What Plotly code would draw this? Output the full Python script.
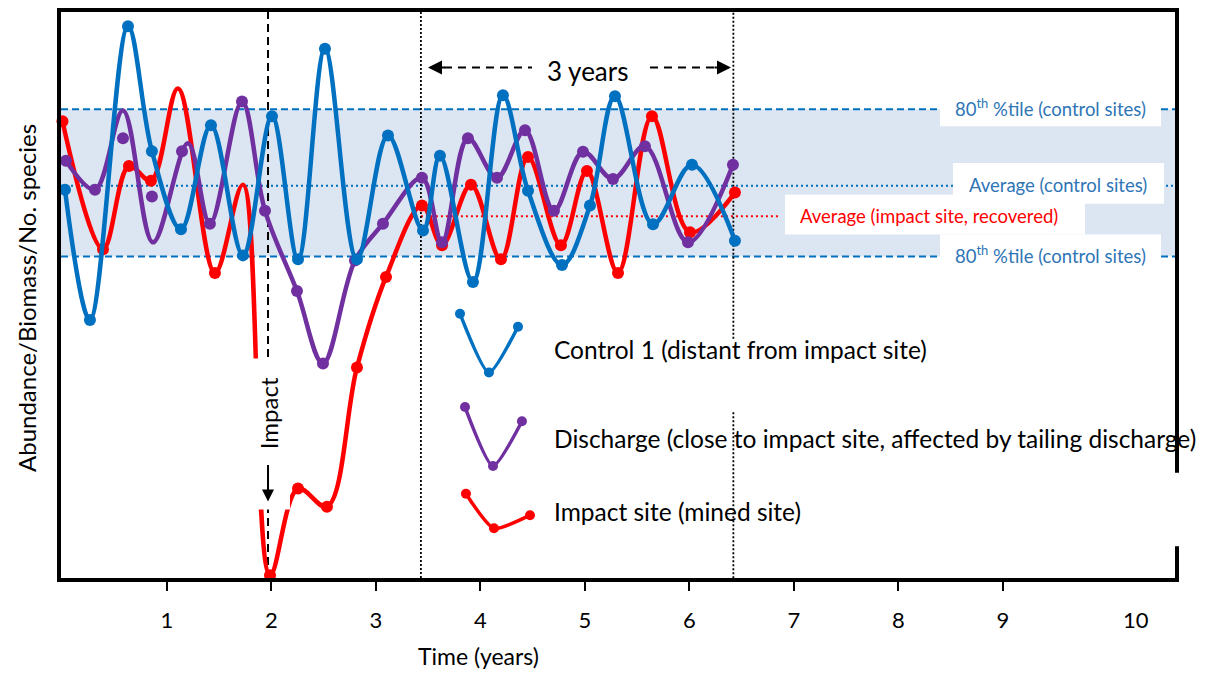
import plotly.graph_objects as go

# ---------------- data ----------------
# x in years, y in arbitrary units (0 = bottom of the plot, 100 = top)
blue_x = [0.024, 0.263, 0.627, 0.856, 1.134, 1.421, 1.727, 2.005, 2.254, 2.512, 2.818, 3.115,
          3.450, 3.612, 3.928, 4.215, 4.455, 4.780, 5.048, 5.287, 5.651, 6.024, 6.435]
blue_y = [68.6, 45.6, 97.5, 75.4, 61.6, 80.0, 57.0, 81.6, 56.3, 93.5, 56.3, 78.2,
          61.4, 74.6, 52.3, 85.3, 68.4, 55.3, 65.8, 85.1, 62.5, 73.0, 59.6]

purple_line_x = [0.033, 0.311, 0.579, 0.866, 1.201, 1.411, 1.718, 1.938, 2.244, 2.493, 2.799, 3.067,
                 3.440, 3.632, 3.880, 4.158, 4.426, 4.703, 4.981, 5.268, 5.574, 5.986, 6.416]
purple_line_y = [73.7, 68.6, 82.6, 59.3, 76.8, 62.6, 84.2, 64.9, 50.7, 37.9, 56.1, 62.6,
                 70.7, 59.3, 77.7, 70.7, 79.1, 64.9, 75.3, 70.5, 76.3, 59.3, 73.0]
purple_pts_x = [0.033, 0.311, 0.579, 0.856, 1.144, 1.411, 1.718, 1.938, 2.244, 2.493, 2.799, 3.067,
                3.440, 3.632, 3.880, 4.158, 4.426, 4.703, 4.981, 5.268, 5.574, 5.986, 6.416]
purple_pts_y = [73.7, 68.6, 77.7, 67.4, 75.4, 62.6, 84.2, 64.9, 50.7, 37.9, 56.1, 62.6,
                70.7, 59.3, 77.7, 70.7, 79.1, 64.9, 75.3, 70.5, 76.3, 59.3, 73.0]

red_line_x = [0.0, 0.388, 0.636, 0.847, 1.105, 1.459, 1.727, 1.986, 2.254, 2.531, 2.818, 3.096,
              3.440, 3.632, 3.909, 4.196, 4.455, 4.770, 5.019, 5.316, 5.641, 6.005, 6.435]
red_line_y = [80.7, 58.1, 72.8, 70.2, 86.5, 53.9, 69.5, 0.5, 15.8, 12.6, 37.2, 53.2,
              65.8, 58.8, 69.5, 56.3, 74.4, 58.8, 71.9, 53.9, 81.6, 61.1, 68.1]
red_pts_x = [0.0, 0.388, 0.636, 0.847, 1.459, 1.986, 2.254, 2.531, 2.818, 3.096,
             3.440, 3.632, 3.909, 4.196, 4.455, 4.770, 5.019, 5.316, 5.641, 6.005, 6.435]
red_pts_y = [80.7, 58.1, 72.8, 70.2, 53.9, 0.5, 15.8, 12.6, 37.2, 53.2,
             65.8, 58.8, 69.5, 56.3, 74.4, 58.8, 71.9, 53.9, 81.6, 61.1, 68.1]

# legend icons (small V-shaped samples)
leg_blue_x = [3.804, 4.081, 4.359]
leg_blue_y = [46.7, 36.3, 44.4]
leg_purple_x = [3.852, 4.120, 4.397]
leg_purple_y = [30.2, 19.8, 27.7]
leg_red_x = [3.861, 4.129, 4.474]
leg_red_y = [14.9, 8.8, 11.1]

# reference levels
ctrl_p80_upper = 82.8
ctrl_p80_lower = 56.8
ctrl_avg = 69.3
impact_avg = 63.9
impact_avg_x = [3.43, 6.87]

impact_year = 1.967
window_years = [3.43, 6.42]

tick_vals = [1, 2, 3, 4, 5, 6, 7, 8, 9]
tick_text = ["1", "2", "3", "4", "5", "6", "7", "8", "9"]
extra_tick_label = "10"
extra_tick_pos = 10.27

series_names = ["Control 1 (distant from impact site)",
                "Discharge (close to impact site, affected by tailing discharge)",
                "Impact site (mined site)"]

# ---------------- styling ----------------
BLUE = "#0070C0"
PURPLE = "#7030A0"
RED = "#FF0000"
TXT_BLUE = "#2E75B6"
BAND = "#DCE6F2"
FONT = "Lato"

X0, X1 = -0.014, 10.646
Y0, Y1 = 0, 100
L, R, T, B = 61, 32, 8, 97
PW, PH = 1207 - L - R, 675 - T - B


def X(px):
    return (px - 62.5) / 104.5


def Y(py):
    return (578 - py) / 5.7


def XP(px):
    return (px - L) / PW


def YP(py):
    return (675 - B - py) / PH


fig = go.Figure()

LW = 4.5
MS = 12
# red
fig.add_trace(go.Scatter(x=red_line_x, y=red_line_y, mode="lines",
                         line=dict(color=RED, width=LW, shape="spline", smoothing=1.0),
                         cliponaxis=False, hoverinfo="skip"))
fig.add_trace(go.Scatter(x=red_pts_x, y=red_pts_y, mode="markers",
                         marker=dict(color=RED, size=MS), cliponaxis=False, hoverinfo="skip"))
# purple
fig.add_trace(go.Scatter(x=purple_line_x, y=purple_line_y, mode="lines",
                         line=dict(color=PURPLE, width=LW, shape="spline", smoothing=1.0),
                         cliponaxis=False, hoverinfo="skip"))
fig.add_trace(go.Scatter(x=purple_pts_x, y=purple_pts_y, mode="markers",
                         marker=dict(color=PURPLE, size=MS), cliponaxis=False, hoverinfo="skip"))
# blue
fig.add_trace(go.Scatter(x=blue_x, y=blue_y, mode="lines+markers",
                         line=dict(color=BLUE, width=LW, shape="spline", smoothing=1.0),
                         marker=dict(color=BLUE, size=MS), cliponaxis=False, hoverinfo="skip"))

# legend icons
for lx, ly, c in [(leg_blue_x, leg_blue_y, BLUE), (leg_purple_x, leg_purple_y, PURPLE),
                  (leg_red_x, leg_red_y, RED)]:
    fig.add_trace(go.Scatter(x=lx, y=ly, mode="lines+markers",
                             line=dict(color=c, width=3.5, shape="spline", smoothing=0.6),
                             marker=dict(color=c, size=10), hoverinfo="skip"))

shapes = []
# band
shapes.append(dict(type="rect", xref="paper", yref="y", x0=0, x1=1, y0=ctrl_p80_lower, y1=ctrl_p80_upper,
                   fillcolor=BAND, line=dict(width=0), layer="below"))
for yv in [ctrl_p80_upper, ctrl_p80_lower]:
    shapes.append(dict(type="line", xref="paper", yref="y", x0=0, x1=1, y0=yv, y1=yv,
                       line=dict(color=BLUE, width=2, dash="7px,4px"), layer="below"))
shapes.append(dict(type="line", xref="paper", yref="y", x0=0, x1=1, y0=ctrl_avg, y1=ctrl_avg,
                   line=dict(color=BLUE, width=2, dash="2px,3px"), layer="below"))
shapes.append(dict(type="line", xref="x", yref="y", x0=impact_avg_x[0], x1=impact_avg_x[1],
                   y0=impact_avg, y1=impact_avg,
                   line=dict(color=RED, width=2, dash="2px,3px"), layer="below"))
# vertical lines
shapes.append(dict(type="line", xref="x", yref="y", x0=impact_year, x1=impact_year, y0=Y0, y1=Y1,
                   line=dict(color="black", width=2, dash="8px,5px"), layer="below"))
shapes.append(dict(type="line", xref="x", yref="y", x0=window_years[0], x1=window_years[0], y0=Y0, y1=Y1,
                   line=dict(color="black", width=1.8, dash="2px,2px"), layer="below"))
shapes.append(dict(type="line", xref="x", yref="y", x0=window_years[1], x1=window_years[1], y0=Y(411), y1=Y0,
                   line=dict(color="black", width=1.8, dash="2px,2px"), layer="below"))
shapes.append(dict(type="line", xref="x", yref="y", x0=window_years[1], x1=window_years[1], y0=Y(337), y1=Y1,
                   line=dict(color="black", width=1.8, dash="2px,2px"), layer="below"))
# "3 years" dashed arrow shafts
shapes.append(dict(type="line", xref="x", yref="y", x0=X(444), x1=X(532), y0=Y(64), y1=Y(64),
                   line=dict(color="black", width=2, dash="8px,6px"), layer="above"))
shapes.append(dict(type="line", xref="x", yref="y", x0=X(650), x1=X(716), y0=Y(64), y1=Y(64),
                   line=dict(color="black", width=2, dash="8px,6px"), layer="above"))
# white label boxes
for (a, b, c, d) in [(940, 1161, 94, 123), (940, 1161, 232, 268), (953, 1164, 160, 201), (785, 1085, 192, 232),
                     (253, 290, 357, 509)]:
    shapes.append(dict(type="rect", xref="x", yref="y", x0=X(a), x1=X(b), y0=Y(d), y1=Y(c),
                       fillcolor="white", line=dict(width=0), layer="above"))
# gap in the right frame behind the long legend text
shapes.append(dict(type="rect", xref="paper", yref="y", x0=0.99, x1=1.01, y0=Y(546), y1=Y(472),
                   fillcolor="white", line=dict(width=0), layer="above"))

ann = []
LBL = 18.5


def A(x, y, text, size, color="black", xref="x", yref="y", **kw):
    d = dict(x=x, y=y, xref=xref, yref=yref, showarrow=False, text=text,
             xanchor="center", yanchor="middle",
             font=dict(color=color, size=size, family=FONT))
    d.update(kw)
    ann.append(d)


A(X(1051), Y(104), "80<sup>th</sup> %tile (control sites)", LBL, TXT_BLUE)
A(X(1051), Y(252), "80<sup>th</sup> %tile (control sites)", LBL, TXT_BLUE)
A(X(1058), Y(182), "Average (control sites)", LBL, TXT_BLUE)
A(X(929), Y(213), "Average (impact site, recovered)", LBL, RED)
# legend texts
for name, py in zip(series_names, [348, 438, 511]):
    A(XP(552), YP(py), name, 24.5, xref="paper", yref="paper", xanchor="left")
# 3 years
A(X(588), Y(67), "3 years", 26)
ann.append(dict(x=X(428), y=Y(64), xref="x", yref="y", showarrow=True, text="", ax=18, ay=0,
                arrowhead=2, arrowsize=1.4, arrowwidth=2, arrowcolor="black"))
ann.append(dict(x=X(731), y=Y(64), xref="x", yref="y", showarrow=True, text="", ax=-18, ay=0,
                arrowhead=2, arrowsize=1.4, arrowwidth=2, arrowcolor="black"))
# Impact
A(impact_year, Y(412), "Impact", 24, textangle=-90)
ann.append(dict(x=impact_year, y=Y(501), xref="x", yref="y", showarrow=True, text="", ax=0, ay=-38,
                arrowhead=2, arrowsize=1.2, arrowwidth=2, arrowcolor="black"))
# y title
A(XP(27), YP(296), "Abundance/Biomass/No. species", 24, xref="paper", yref="paper", textangle=-90)
# x title
A(XP(478), YP(657), "Time (years)", 23, xref="paper", yref="paper")
# last tick label without tick mark
A(XP(62.5 + extra_tick_pos * 104.5), YP(620), extra_tick_label, 22, xref="paper", yref="paper")

fig.update_layout(
    width=1207, height=675,
    margin=dict(l=L, r=R, t=T, b=B),
    plot_bgcolor="white", paper_bgcolor="white",
    showlegend=False,
    font=dict(family=FONT, size=20, color="black"),
    shapes=shapes, annotations=ann,
    xaxis=dict(range=[X0, X1], showgrid=False, zeroline=False, showline=True, mirror=True,
               linecolor="black", linewidth=3.5, ticks="outside", ticklen=9, tickwidth=2,
               tickcolor="black", tickvals=tick_vals, ticktext=tick_text,
               tickfont=dict(size=22, family=FONT, color="black"), ticklabelstandoff=11),
    yaxis=dict(range=[Y0, Y1], showgrid=False, zeroline=False, showline=True, mirror=True,
               linecolor="black", linewidth=3.5, showticklabels=False, ticks=""),
)

fig.write_html("out.html", config={"displayModeBar": False},
               post_script="document.body.style.margin='0';")
